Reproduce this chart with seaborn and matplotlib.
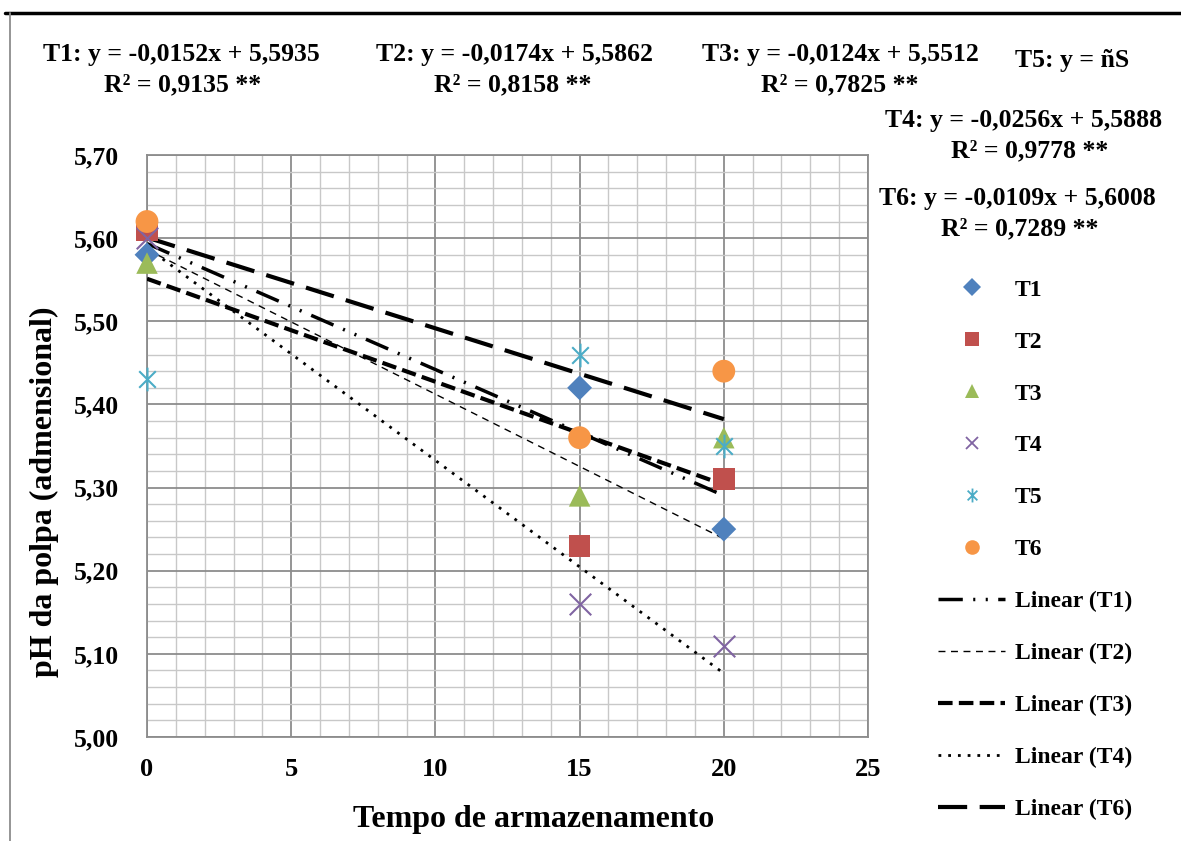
import numpy as np
import pandas as pd
import matplotlib
matplotlib.use("Agg")
import matplotlib.pyplot as plt
import seaborn as sns
from matplotlib.path import Path
from matplotlib.lines import Line2D
from matplotlib.ticker import MultipleLocator, FixedLocator, FixedFormatter

# ---------------- data ----------------
dias = [0, 15, 20]
T1 = [5.58, 5.42, 5.25]
T2 = [5.61, 5.23, 5.31]
T3 = [5.57, 5.29, 5.36]
T4 = [5.60, 5.16, 5.11]
T5 = [5.43, 5.46, 5.35]
T6 = [5.62, 5.36, 5.44]
series_names = ["T1", "T2", "T3", "T4", "T5", "T6"]
trend_names = ["T1", "T2", "T3", "T4", "T6"]
x_ticks = [0, 5, 10, 15, 20, 25]
y_ticks = [5.00, 5.10, 5.20, 5.30, 5.40, 5.50, 5.60, 5.70]
y_ticklabels = ["5,00", "5,10", "5,20", "5,30", "5,40", "5,50", "5,60", "5,70"]
equations = {
    "T1": ("T1: y = -0,0152x + 5,5935", "R² = 0,9135 **"),
    "T2": ("T2: y = -0,0174x + 5,5862", "R² = 0,8158 **"),
    "T3": ("T3: y = -0,0124x + 5,5512", "R² = 0,7825 **"),
    "T5": ("T5: y = ñS", ""),
    "T4": ("T4: y = -0,0256x + 5,5888", "R² = 0,9778 **"),
    "T6": ("T6: y = -0,0109x + 5,6008", "R² = 0,7289 **"),
}
x_label = "Tempo de armazenamento"
y_label = "pH da polpa (admensional)"

data = {"T1": T1, "T2": T2, "T3": T3, "T4": T4, "T5": T5, "T6": T6}
df = pd.DataFrame([(d, n, v) for n in series_names for d, v in zip(dias, data[n])],
                  columns=["dias", "trat", "ph"])

# ---------------- style ----------------
sns.set_style("white")
plt.rcParams["font.family"] = ["Liberation Serif", "DejaVu Serif"]
plt.rcParams["font.weight"] = "bold"
plt.rcParams["text.color"] = "black"
plt.rcParams["axes.labelcolor"] = "black"
plt.rcParams["xtick.labelcolor"] = "black"
plt.rcParams["ytick.labelcolor"] = "black"

colors = {"T1": "#4F81BD", "T2": "#C0504D", "T3": "#9BBB59",
          "T4": "#8064A2", "T5": "#4BACC6", "T6": "#F79646"}

# Excel-like star marker: x with a vertical bar
star_path = Path(
    [(-0.7, -0.7), (0.7, 0.7), (-0.7, 0.7), (0.7, -0.7), (0, -1), (0, 1)],
    [Path.MOVETO, Path.LINETO, Path.MOVETO, Path.LINETO, Path.MOVETO, Path.LINETO])
markers = {"T1": "D", "T2": "s", "T3": "^", "T4": "x", "T5": star_path, "T6": "o"}
sizes = {"T1": 160, "T2": 240, "T3": 240, "T4": 240, "T5": 290, "T6": 270}

trend_style = {
    "T1": dict(lw=2.5, dashes=(7, 3, 0.6, 3, 0.6, 3)),
    "T2": dict(lw=1.0, dashes=(5, 4)),
    "T3": dict(lw=3.0, dashes=(3.5, 1.5)),
    "T4": dict(lw=2.0, dashes=(1, 2.5)),
    "T6": dict(lw=3.0, dashes=(7, 3)),
}

fig = plt.figure(figsize=(11.81, 8.41), dpi=100)
ax = fig.add_axes([147 / 1181, 104 / 841, (868 - 147) / 1181, (737 - 155) / 841])

# trend lines
for n in trend_names:
    sub = df[df.trat == n]
    st = trend_style[n]
    sns.regplot(data=sub, x="dias", y="ph", ax=ax, scatter=False, ci=None, truncate=True,
                line_kws=dict(color="black", lw=st["lw"], dashes=st["dashes"], zorder=3))

# points
for n in series_names:
    sub = df[df.trat == n]
    lw = 1.5 if n in ("T4", "T5") else 0
    sns.scatterplot(data=sub, x="dias", y="ph", ax=ax, marker=markers[n],
                    color=colors[n], s=sizes[n], linewidth=lw,
                    edgecolor=colors[n] if lw else "none", zorder=4, legend=False,
                    clip_on=False)

ax.set_xlim(0, 25)
ax.set_ylim(5.0, 5.7)
ax.xaxis.set_major_locator(FixedLocator(x_ticks))
ax.xaxis.set_minor_locator(MultipleLocator(1))
ax.yaxis.set_major_locator(FixedLocator(y_ticks))
ax.yaxis.set_major_formatter(FixedFormatter(y_ticklabels))
ax.yaxis.set_minor_locator(MultipleLocator(0.02))
ax.grid(which="major", color="#8c8c8c", lw=1.3, zorder=0)
ax.grid(which="minor", color="#c8c8c8", lw=1.0, zorder=0)
ax.set_axisbelow(True)
for s in ax.spines.values():
    s.set_color("#8c8c8c")
    s.set_linewidth(1.3)
ax.tick_params(axis="y", which="major", length=7, color="#8c8c8c", width=1.3,
               labelsize=18.5, pad=13, direction="out", labelcolor="black")
ax.tick_params(axis="x", which="major", length=5, color="#8c8c8c", width=1.3,
               labelsize=19, pad=10, direction="out", labelcolor="black")
ax.tick_params(axis="both", which="minor", length=0)
for lab in ax.get_xticklabels() + ax.get_yticklabels():
    lab.set_fontweight("bold")
ax.set_xlabel(x_label, fontsize=23, fontweight="bold", va="center", color="black")
ax.set_ylabel(y_label, fontsize=23, fontweight="bold", va="center", color="black")
ax.xaxis.set_label_coords((534 - 147) / 721, (737 - 820) / 582)
ax.yaxis.set_label_coords((44 - 147) / 721, (737 - 492) / 582)

# legend
ms = {"T1": 9, "T2": 10, "T3": 10, "T4": 9, "T5": 10, "T6": 10.5}
handles, labels = [], []
for n in series_names:
    handles.append(Line2D([], [], ls="none", marker=markers[n], color=colors[n],
                          markersize=ms[n],
                          markeredgewidth=1.3 if n in ("T4", "T5") else 0))
    labels.append(n)
for n in trend_names:
    st = trend_style[n]
    handles.append(Line2D([], [], color="black", lw=st["lw"], dashes=st["dashes"]))
    labels.append(f"Linear ({n})")
leg = fig.legend(handles, labels, loc="upper left", bbox_to_anchor=(938 / 1181, 1 - 279 / 841),
                 frameon=False, handlelength=2.84, handletextpad=0.42,
                 labelspacing=1.29, borderpad=0, borderaxespad=0,
                 prop=dict(weight="bold", size=17), labelcolor="black")

# equations
pos = {"T1": (181, 55, 183, 85), "T2": (515, 55, 513, 85), "T3": (840, 55, 840, 85),
       "T5": (1072, 60, None, None), "T4": (1024, 121, 1030, 151), "T6": (1017, 199, 1020, 229)}
for n, (l1, l2) in equations.items():
    x1, y1, x2, y2 = pos[n]
    fig.text(x1 / 1181, 1 - y1 / 841, l1, ha="center", va="center", fontsize=18.5,
             fontweight="bold", color="black")
    if l2:
        fig.text(x2 / 1181, 1 - y2 / 841, l2, ha="center", va="center", fontsize=18.5,
                 fontweight="bold", color="black")

# outer frame fragments
fig.add_artist(Line2D([5 / 1181, 1], [1 - 13 / 841, 1 - 13 / 841], color="black", lw=2.5,
                      transform=fig.transFigure))
fig.add_artist(Line2D([10 / 1181, 10 / 1181], [0, 1 - 13 / 841], color="#8c8c8c", lw=1.3,
                      transform=fig.transFigure))

fig.savefig("out.png", dpi=100)
